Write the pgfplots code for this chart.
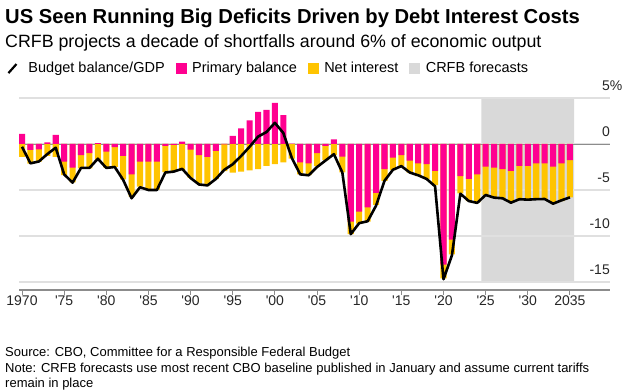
\documentclass[border=0pt]{standalone}
\usepackage{pgfplots}
\pgfplotsset{compat=1.18}
\usepackage{pgfplotstable}
\usepackage{fontspec}
\setmainfont{Liberation Sans}
\definecolor{pinkC}{RGB}{255,0,144}
\definecolor{yelC}{RGB}{255,196,0}
\definecolor{shadeC}{RGB}{217,217,217}
\definecolor{gridC}{RGB}{224,224,224}
\definecolor{axisC}{RGB}{140,140,140}

\pgfplotstableread{
year prim int bal
1970 1.09 -1.41 -0.3
1971 -0.65 -1.49 -2.1
1972 -0.58 -1.34 -1.9
1973 0.18 -1.30 -1.1
1974 0.98 -1.41 -0.4
1975 -1.92 -1.45 -3.3
1976 -2.57 -1.60 -4.2
1977 -1.20 -1.44 -2.6
1978 -0.98 -1.66 -2.6
1979 0.10 -1.67 -1.6
1980 -0.83 -1.74 -2.6
1981 -0.33 -2.17 -2.5
1982 -1.30 -2.54 -3.9
1983 -3.30 -2.42 -5.9
1984 -1.92 -2.72 -4.7
1985 -1.92 -3.05 -5.0
1986 -1.92 -3.05 -5.0
1987 -0.20 -2.85 -3.1
1988 -0.10 -2.85 -3.0
1989 0.25 -2.85 -2.7
1990 -0.62 -3.05 -3.7
1991 -1.20 -3.10 -4.4
1992 -1.40 -3.10 -4.5
1993 -0.76 -3.05 -3.8
1994 -0.05 -2.90 -2.8
1995 0.87 -3.12 -2.2
1996 1.70 -3.00 -1.3
1997 2.57 -2.86 -0.3
1998 3.48 -2.72 0.8
1999 3.70 -2.39 1.3
2000 4.46 -2.20 2.3
2001 3.15 -2.00 1.2
2002 0.05 -1.60 -1.5
2003 -2.00 -1.30 -3.3
2004 -2.10 -1.27 -3.4
2005 -1.00 -1.40 -2.5
2006 -0.20 -1.54 -1.8
2007 0.50 -1.20 -1.1
2008 -1.38 -1.70 -3.1
2009 -8.44 -1.36 -9.8
2010 -7.36 -1.30 -8.6
2011 -6.90 -1.54 -8.4
2012 -5.30 -1.33 -6.7
2013 -2.72 -1.28 -4.0
2014 -1.49 -1.34 -2.8
2015 -1.20 -1.20 -2.4
2016 -1.81 -1.29 -3.1
2017 -2.10 -1.38 -3.4
2018 -2.20 -1.60 -3.8
2019 -2.93 -1.53 -4.6
2020 -13.10 -1.50 -14.7
2021 -10.40 -1.60 -12.1
2022 -3.48 -1.88 -5.4
2023 -3.80 -2.40 -6.2
2024 -3.30 -3.04 -6.4
2025 -2.46 -3.08 -5.54
2026 -2.57 -3.26 -5.83
2027 -2.72 -3.18 -5.90
2028 -2.93 -3.41 -6.38
2029 -2.39 -3.59 -6.00
2030 -2.39 -3.61 -6.05
2031 -2.10 -3.88 -6.00
2032 -2.10 -3.88 -5.98
2033 -2.46 -3.99 -6.49
2034 -2.10 -4.10 -6.12
2035 -1.74 -4.06 -5.80
}\budget

\begin{document}
\begin{tikzpicture}
\path (0pt,0pt) rectangle (627pt,391pt);
\node[anchor=base west, inner sep=0pt, font=\fontsize{20.2}{22}\selectfont\bfseries] at (5pt,367pt) {US Seen Running Big Deficits Driven by Debt Interest Costs};
\node[anchor=base west, inner sep=0pt, font=\fontsize{17.8}{20}\selectfont] at (5pt,343pt) {CRFB projects a decade of shortfalls around 6\% of economic output};
\begin{axis}[
  at={(19pt,101pt)}, anchor=south west,
  scale only axis, width=591pt, height=192pt,
  xmin=1969.644, xmax=2039.75, ymin=-15.87, ymax=5,
  set layers,
  axis x line*=bottom, axis y line*=right,
  y axis line style={draw=none},
  x axis line style={draw=axisC, line width=1.3pt},
  xtick={1970,1975,...,2035},
  xticklabels={1970,\textquotesingle75,\textquotesingle80,\textquotesingle85,\textquotesingle90,\textquotesingle95,\textquotesingle00,\textquotesingle05,\textquotesingle10,\textquotesingle15,\textquotesingle20,\textquotesingle25,\textquotesingle30,2035},
  ytick={-15,-10,-5,0,5},
  yticklabels={-15,-10,-5,0,5\rlap{\%}},
  ymajorgrids, grid style={draw=gridC, line width=1.1pt},
  extra y ticks={0}, extra y tick labels={},
  extra y tick style={grid style={draw=axisC, line width=0.8pt}},
  tick align=outside, major tick length=5pt,
  xtick style={draw=axisC, line width=1pt},
  ytick style={draw=none},
  tick label style={font=\fontsize{14}{16}\selectfont, text=black!85},
  yticklabel style={anchor=base east, inner sep=0pt, yshift=7pt, xshift=-5pt},
  xticklabel style={anchor=north, inner sep=0pt, yshift=-1pt},
  legend style={at={(axis description cs:-0.020,1.156)}, anchor=west, draw=none, fill=none,
    legend columns=4, font=\fontsize{14.5}{16}\selectfont, inner sep=0pt,
    /tikz/every odd column/.append style={column sep=4pt},
    /tikz/every even column/.append style={column sep=9pt}},
  legend cell align=left,
]
\addlegendimage{legend image code/.code={\path[draw=none] (0pt,0pt) -- (14pt,0pt); \draw[black, line width=2.2pt] (0pt,-5pt) -- (8pt,4pt);}}
\addlegendentry{Budget balance/GDP}
\addlegendimage{legend image code/.code={\fill[pinkC] (0pt,-5pt) rectangle (10pt,5pt);}}
\addlegendentry{Primary balance}
\addlegendimage{legend image code/.code={\fill[yelC] (0pt,-5pt) rectangle (10pt,5pt);}}
\addlegendentry{Net interest}
\addlegendimage{legend image code/.code={\fill[shadeC] (0pt,-5pt) rectangle (10pt,5pt);}}
\addlegendentry{CRFB forecasts}

\addplot[fill=shadeC, draw=none, on layer=axis background, forget plot] coordinates {(2024.5,-15) (2024.5,5) (2035.5,5) (2035.5,-15) (2024.5,-15)};
\addplot[ybar, bar width=0.72, bar shift=0pt, fill=yelC, draw=none, forget plot] table[x=year, y expr={min(\thisrow{prim},0)+\thisrow{int}}] {\budget};
\addplot[ybar, bar width=0.72, bar shift=0pt, fill=pinkC, draw=none, forget plot] table[x=year, y=prim] {\budget};
\addplot[black, line width=2.6pt, line join=round, no marks, forget plot] table[x=year, y=bal] {\budget};
\end{axis}
\node[anchor=base west, inner sep=0pt, font=\fontsize{13}{16}\selectfont] at (5pt,34.5pt) {Source: CBO, Committee for a Responsible Federal Budget};
\node[anchor=base west, inner sep=0pt, font=\fontsize{13}{16}\selectfont] at (5pt,18.5pt) {Note: CRFB forecasts use most recent CBO baseline published in January and assume current tariffs};
\node[anchor=base west, inner sep=0pt, font=\fontsize{13}{16}\selectfont] at (5pt,3.2pt) {remain in place};
\end{tikzpicture}
\end{document}
